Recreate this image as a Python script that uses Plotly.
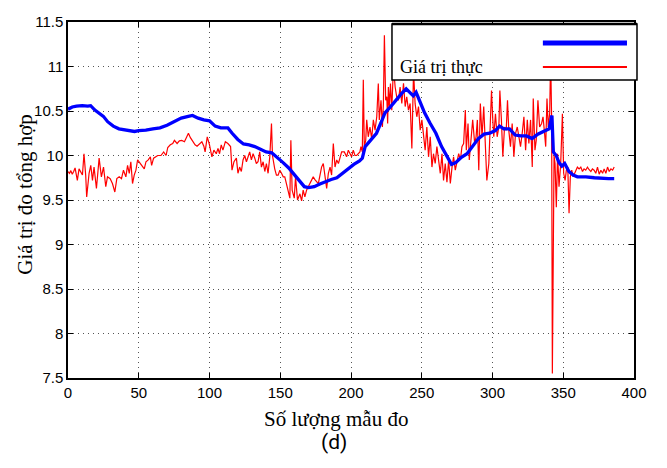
import plotly.graph_objects as go

# ---- data ----
blue_x = [0, 3, 6, 10, 14, 16, 19, 22, 25, 28, 32, 36, 40, 45, 47, 50, 55, 60, 65, 70, 75, 80, 85, 88,
          92, 96, 100, 104, 108, 113, 116, 120, 124, 128, 132, 136, 140, 144, 148, 152, 156, 160, 164,
          167, 170, 174, 178, 182, 186, 190, 194, 198, 202, 206, 208, 210, 214, 218, 222, 224, 228, 232,
          236, 239, 242, 244, 246, 249, 252, 256, 260, 264, 268, 271, 274, 278, 282, 286, 290, 294, 298,
          302, 305, 308, 312, 316, 320, 324, 328, 332, 336, 340, 342, 343, 345, 347, 349, 351, 354, 357,
          360, 366, 372, 378, 382, 386]
blue_y = [10.52, 10.545, 10.555, 10.56, 10.555, 10.56, 10.51, 10.47, 10.44, 10.38, 10.33, 10.30, 10.29,
          10.28, 10.27, 10.28, 10.285, 10.30, 10.31, 10.34, 10.38, 10.42, 10.44, 10.45, 10.42, 10.40,
          10.39, 10.33, 10.31, 10.31, 10.25, 10.18, 10.13, 10.12, 10.10, 10.07, 10.04, 10.03, 9.98, 9.92,
          9.86, 9.78, 9.70, 9.65, 9.64, 9.65, 9.68, 9.71, 9.73, 9.75, 9.80, 9.86, 9.90, 9.94, 9.97, 10.10,
          10.17, 10.25, 10.40, 10.48, 10.55, 10.63, 10.70, 10.75, 10.70, 10.67, 10.71, 10.60, 10.48, 10.36,
          10.25, 10.10, 9.98, 9.90, 9.92, 9.98, 10.02, 10.10, 10.19, 10.24, 10.25, 10.28, 10.33, 10.30,
          10.30, 10.23, 10.22, 10.22, 10.19, 10.24, 10.27, 10.30, 10.45, 10.04, 10.00, 9.92, 9.88, 9.91,
          9.82, 9.78, 9.76, 9.76, 9.75, 9.74, 9.74, 9.74]

red_x = [0, 1, 2, 3, 4, 5, 6.6, 7.8, 10.2, 11.3, 12.5, 13.2, 14.9, 16.1, 17.3, 18.4, 20.1, 22, 23.6, 25.1,
         26.7, 27.9, 29.8, 31.4, 33.1, 34.5, 36.2, 37.8, 39.2, 40.9, 42.1, 43.3, 44.4, 45.6, 46.8, 48,
         49.2, 51.1, 52.7, 53.9, 55.1, 56.7, 58.2, 59.1, 60.5, 62.2, 63.4, 65.7, 67.6, 69.3, 70.5, 72.3,
         74, 75.2, 77.1, 78.7, 80.4, 82.3, 83.4, 85.1, 86.5, 88.2, 89.8, 91.2, 92.9, 94.6, 96, 96.9,
         98.4, 100, 101.7, 103.1, 104.8, 106, 107.1, 108.3, 109.5, 111.2, 113, 114.9, 115.9, 117.3, 119,
         120.1, 121.3, 122.5, 123.7, 124.9, 126.1, 127.2, 128.4, 129.6, 130.8, 132, 133.1, 134.3, 135.5,
         136.7, 137.9, 139.1, 140.2, 141.4, 142.6, 143.8, 144.5, 146.1, 147.3, 148.5, 149.7, 150.9, 152.1,
         153.2, 154.4, 155.6, 156.8, 157.5, 158.4, 159.9, 160.8, 162.2, 163.9, 165.1, 166.2, 167.4, 168.6,
         169.8, 171, 172.2, 173.3, 174.5, 175.7, 176.9, 178.1, 179.2, 180.4, 181.6, 182.8, 184, 185.2,
         186.3, 187.5, 188.7, 189.9, 191.1, 192.2, 193.4, 195.3, 196.9, 198.1, 199.2, 200.4, 201.6, 202.8,
         204, 205.2, 206.3, 207, 208, 208.7, 209.4, 210.4, 211.1, 212.2, 213.4, 214.6, 215.8, 217, 218.2,
         219.3, 220, 221.2, 222.2, 222.9, 223.6, 224.5, 225.3, 225.9, 226.4, 227.1, 227.9, 228.8, 230,
         231.2, 232.3, 233.5, 234.7, 235.9, 237.1, 238.3, 239.4, 240.6, 241.8, 243, 244.2, 245.3, 246.5,
         247.7, 248.9, 250.1, 251.3, 252.4, 253.6, 254.8, 256, 257.2, 258.3, 259.5, 260.7, 261.9, 263.1,
         264.3, 265.4, 266.6, 267.8, 269, 270.2, 271.4, 272.5, 273.7, 274.9, 276.1, 277.3, 278.4, 279.6,
         280.8, 281.5, 282.7, 283.6, 285, 286, 287.4, 288.4, 289.3, 290.3, 291.4, 292.6, 293.8, 295, 296,
         297.4, 298.5, 299.3, 300.2, 300.9, 302.1, 303.3, 304.5, 305.2, 306.3, 307.3, 308.5, 309.7, 310.6,
         311.5, 312.7, 313.9, 315.1, 316.3, 317.5, 318.6, 319.8, 321, 322.2, 323.4, 324.6, 325.7, 326.9,
         328.1, 328.8, 330, 330.9, 332.1, 333.3, 334.7, 335.7, 336.6, 337.6, 338.5, 339.4, 340.4, 341.1,
         341.8, 342.3, 343.5, 344.2, 345.1, 346, 347, 348.2, 349.4, 350.3, 351.3, 352.2, 353.2, 354.1, 355,
         356, 357, 357.9, 358.8, 360, 361.2, 362.4, 363.6, 364.7, 365.9, 367.1, 368.3, 369.5, 370.6, 371.8,
         373, 374.2, 375.4, 376.6, 377.8, 378.9, 380.1, 381.3, 382.5, 383.7, 384.9, 386]
red_y = [9.82, 9.80, 9.83, 9.79, 9.82, 9.86, 9.72, 9.85, 9.78, 10.02, 9.78, 9.535, 9.80, 9.89, 9.72, 9.87,
         9.63, 9.97, 9.76, 9.87, 9.65, 9.76, 9.74, 9.685, 9.59, 9.74, 9.76, 9.74, 9.835, 9.76, 9.89, 9.80,
         9.93, 9.685, 9.78, 9.835, 9.95, 9.91, 9.87, 9.85, 9.93, 9.95, 9.985, 9.89, 9.97, 9.985, 10.0,
         10.0, 10.04, 10.0, 10.09, 10.12, 10.135, 10.17, 10.135, 10.165, 10.17, 10.155, 10.19, 10.25,
         10.20, 10.155, 10.12, 10.105, 10.135, 10.155, 10.105, 10.04,
         10.21, 10.12, 9.985, 10.06, 10.02, 10.08, 10.02, 10.12, 10.06, 10.155, 10.135, 10.10, 9.835,
         9.93, 9.97, 9.80, 9.87, 9.82, 9.95, 10.0, 9.93, 9.985, 10.04, 9.95, 10.02, 9.97, 9.91, 9.93,
         10.04, 9.87, 9.93, 9.82, 9.91, 9.80, 9.985, 10.36, 10.0, 9.85, 9.78, 9.78, 9.835, 9.80, 9.76,
         9.76, 9.67, 9.61, 9.52, 10.17, 9.61, 9.52, 9.76, 9.50, 9.57, 9.49, 9.61, 9.535, 9.61,
         9.65, 9.685, 9.72, 9.76, 9.73, 9.705, 9.685, 9.78, 9.87, 9.91, 9.76, 9.63, 9.80, 9.87,
         9.78, 10.135, 9.87, 9.95, 9.91, 9.985, 10.04, 10.04, 9.985, 10.06, 10.02, 9.985, 10.06, 10.0,
         10.0, 10.02, 10.04, 10.10, 10.04, 10.85, 10.10, 10.17, 10.40, 10.21, 10.32, 10.19, 10.40, 10.285,
         10.435, 10.81, 10.40, 10.62, 10.32, 10.585, 11.35, 10.62, 10.66, 10.36, 10.77, 10.55, 10.81,
         10.51, 11.0, 10.77, 10.66, 10.62, 10.77, 10.585, 10.81, 10.55, 10.66, 10.51, 10.585, 10.08,
         10.95, 10.585, 10.435, 10.55, 10.285, 10.40, 10.21, 10.06, 10.32, 9.985, 10.21, 9.87, 10.02,
         9.91, 10.10, 9.95, 9.80, 10.02, 9.72, 9.91, 9.70, 9.95, 9.685, 9.87, 9.985, 9.835, 9.95, 10.02,
         9.95, 10.10, 10.135, 10.51, 10.06, 10.36, 9.95, 10.285, 10.40, 10.135, 10.21, 10.40, 9.835,
         10.585, 10.21, 10.55, 10.06, 9.72, 9.91, 10.43, 10.73, 10.40, 10.21, 10.47, 10.21, 10.32, 10.73,
         10.40, 9.985, 10.32, 10.285, 10.62, 10.285, 10.10, 10.36, 9.985, 10.25, 10.32, 10.21, 10.10,
         10.25, 10.435, 10.06, 10.40, 10.135, 10.40, 9.87, 10.64, 10.06, 10.17, 10.62, 10.32, 10.36,
         10.435, 10.285, 10.10, 10.64, 10.32, 10.47, 11.1, 10.40, 7.55, 10.0, 9.91, 9.42, 10.02, 9.65,
         9.91, 10.47, 9.80, 9.72, 9.835, 9.87, 9.35, 9.76, 9.835, 9.76, 9.80, 9.835, 9.87, 9.85, 9.87,
         9.82, 9.85, 9.835, 9.87, 9.84, 9.82, 9.85, 9.835, 9.80, 9.87, 9.79, 9.835, 9.80, 9.85, 9.80,
         9.87, 9.82, 9.85, 9.835, 9.87]

x_ticks = [0, 50, 100, 150, 200, 250, 300, 350, 400]
y_ticks = [7.5, 8, 8.5, 9, 9.5, 10, 10.5, 11, 11.5]
legend_label = "Giá trị thực"
x_title = "Số lượng mẫu đo"
y_title = "Giá trị đo tổng hợp"
caption = "(d)"

fig = go.Figure()
fig.add_trace(go.Scatter(x=red_x, y=red_y, mode="lines",
                         line=dict(color="rgb(255,0,0)", width=1.2), showlegend=False))
fig.add_trace(go.Scatter(x=blue_x, y=blue_y, mode="lines",
                         line=dict(color="rgb(0,0,255)", width=3.3), showlegend=False))

axis_common = dict(showline=True, linecolor="black", linewidth=1.5, mirror="ticks",
                   ticks="inside", ticklen=5, tickcolor="black",
                   showgrid=True, gridcolor="#555", griddash="1px,4px", gridwidth=1,
                   zeroline=False, automargin=False,
                   tickfont=dict(family="Liberation Sans, Arial", size=15, color="black"))
fig.update_xaxes(range=[0, 400], tickvals=x_ticks, **axis_common)
fig.update_yaxes(range=[7.5, 11.5], tickvals=y_ticks, **axis_common)

# legend drawn manually (lines on the right side, as in the reference)
fig.add_shape(type="rect", xref="paper", yref="paper", x0=0.5724, x1=1.0053, y0=0.837, y1=0.9944,
              fillcolor="white", line=dict(color="black", width=1.5), layer="above")
fig.add_shape(type="line", xref="paper", yref="paper", x0=0.5724, x1=1.0053, y0=0.9944, y1=0.9944,
              line=dict(color="black", width=2.5), layer="above")
fig.add_shape(type="line", xref="paper", yref="paper", x0=0.839, x1=0.9876, y0=0.941, y1=0.941,
              line=dict(color="rgb(0,0,255)", width=5), layer="above")
fig.add_shape(type="line", xref="paper", yref="paper", x0=0.839, x1=0.9876, y0=0.8736, y1=0.8736,
              line=dict(color="rgb(255,0,0)", width=2), layer="above")

fig.add_annotation(xref="paper", yref="paper", x=0.583, y=0.8736, text=legend_label, showarrow=False,
                   xanchor="left", yanchor="middle",
                   font=dict(family="Liberation Serif, Times New Roman", size=18, color="black"))
fig.add_annotation(xref="paper", yref="paper", x=0.4735, y=-0.115, text=x_title, showarrow=False,
                   xanchor="center", yanchor="middle",
                   font=dict(family="Liberation Serif, Times New Roman", size=21, color="black"))
fig.add_annotation(xref="paper", yref="paper", x=-0.076, y=0.515, text=y_title, showarrow=False,
                   textangle=-90, xanchor="center", yanchor="middle",
                   font=dict(family="Liberation Serif, Times New Roman", size=21, color="black"))
fig.add_annotation(xref="paper", yref="paper", x=0.47, y=-0.18, text=caption, showarrow=False,
                   xanchor="center", yanchor="middle",
                   font=dict(family="Roboto, sans-serif", size=21, color="black"))

# page body has an 8px margin, so margins are offset to keep the plot area in place
fig.update_layout(width=667, height=468, margin=dict(l=60, r=41, t=14, b=98, autoexpand=False),
                  plot_bgcolor="white", paper_bgcolor="white", showlegend=False)

fig.write_html("out.html")
